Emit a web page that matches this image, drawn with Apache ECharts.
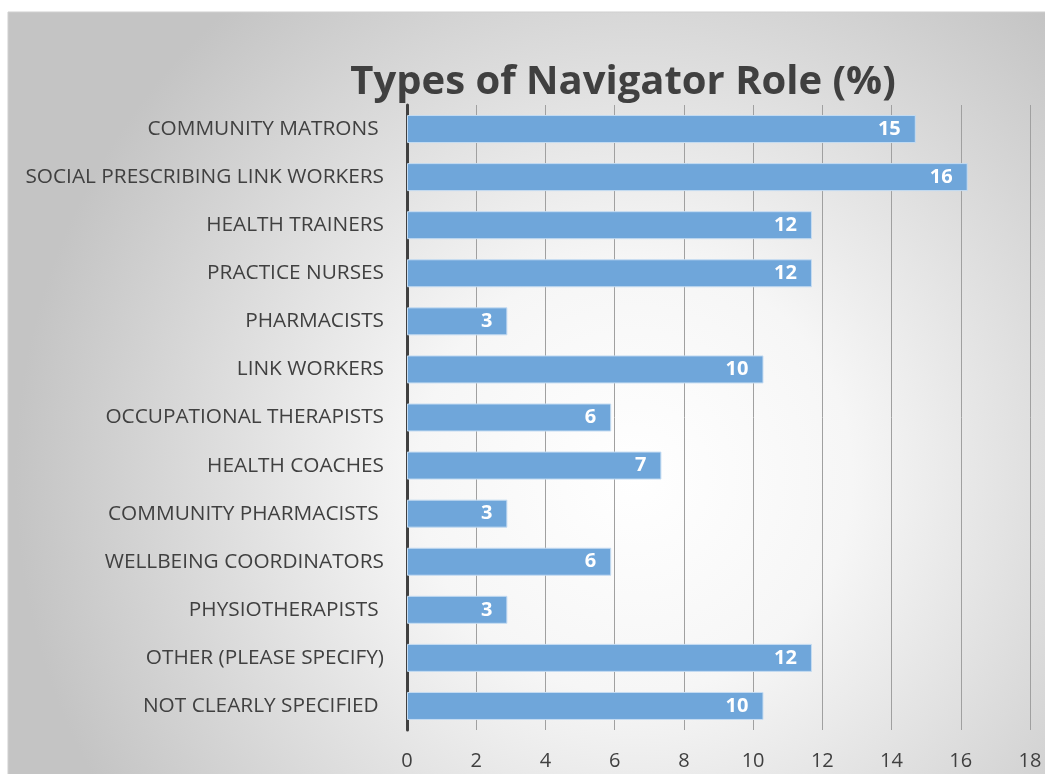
<!DOCTYPE html>
<html>
<head>
<meta charset="utf-8">
<script src="https://cdn.jsdelivr.net/npm/echarts@6/dist/echarts.min.js"></script>
<style>
  html, body { margin: 0; padding: 0; background: #fff; }
  #mychart { width: 1045px; height: 774px; }
</style>
</head>
<body>
<div id="mychart"></div>
<script>
var domchart = document.getElementById("mychart");

// categories, top to bottom
var roles = ['COMMUNITY MATRONS ', 'SOCIAL PRESCRIBING LINK WORKERS', 'HEALTH TRAINERS',
    'PRACTICE NURSES', 'PHARMACISTS', 'LINK WORKERS', 'OCCUPATIONAL THERAPISTS',
    'HEALTH COACHES', 'COMMUNITY PHARMACISTS ', 'WELLBEING COORDINATORS',
    'PHYSIOTHERAPISTS ', 'OTHER (PLEASE SPECIFY)', 'NOT CLEARLY SPECIFIED '];
// percentages
var percents = [14.7, 16.2, 11.7, 11.7, 2.9, 10.3, 5.9, 7.35, 2.9, 5.9, 2.9, 11.7, 10.3];
var xTicks = [0, 2, 4, 6, 8, 10, 12, 14, 16, 18];

var fontFam = 'Open Sans';

option = {
    animation: false,
    graphic: [{
        type: 'rect',
        z: -10,
        shape: { x: 8, y: 12, width: 1045, height: 774 },
        style: {
            fill: {
                type: 'radial', x: 0.6, y: 0.6, r: 0.8,
                colorStops: [
                    { offset: 0, color: '#ffffff' },
                    { offset: 0.35, color: '#f6f6f6' },
                    { offset: 1, color: '#c4c4c4' }
                ]
            },
            stroke: '#cfcfcf',
            lineWidth: 1
        }
    }],
    title: {
        text: 'Types of Navigator Role (%)',
        left: 618,
        textAlign: 'center',
        top: 58,
        textStyle: {
            fontFamily: fontFam,
            fontSize: 40,
            fontWeight: 'bold',
            color: '#404040'
        }
    },
    grid: { left: 407, right: 15, top: 105, bottom: 44 },
    xAxis: {
        type: 'value',
        min: 0,
        max: 18,
        interval: 2,
        axisLine: { show: false },
        axisTick: { show: false },
        axisLabel: {
            fontFamily: fontFam,
            fontSize: 20,
            color: '#404040',
            margin: 21,
            formatter: function (v) { return xTicks.indexOf(v) >= 0 ? String(v) : ''; }
        },
        splitLine: { lineStyle: { color: '#a0a0a0', width: 1 } }
    },
    yAxis: {
        type: 'category',
        data: roles,
        inverse: true,
        axisLine: { lineStyle: { color: '#404040', width: 3 } },
        axisTick: { show: false },
        axisLabel: {
            fontFamily: fontFam,
            fontSize: 20.8,
            color: '#404040',
            margin: 23
        }
    },
    series: [{
        type: 'bar',
        data: percents,
        barWidth: 28,
        itemStyle: {
            color: '#6fa6da',
            borderColor: '#c5dcf2',
            borderWidth: 1
        },
        label: {
            show: true,
            position: 'insideRight',
            distance: 15,
            fontFamily: fontFam,
            fontSize: 20,
            fontWeight: 'bold',
            color: '#ffffff',
            formatter: function (p) { return Math.round(p.value); }
        }
    }]
};

var chart_bar = echarts.init(domchart);
chart_bar.setOption(option, true);
</script>
</body>
</html>
